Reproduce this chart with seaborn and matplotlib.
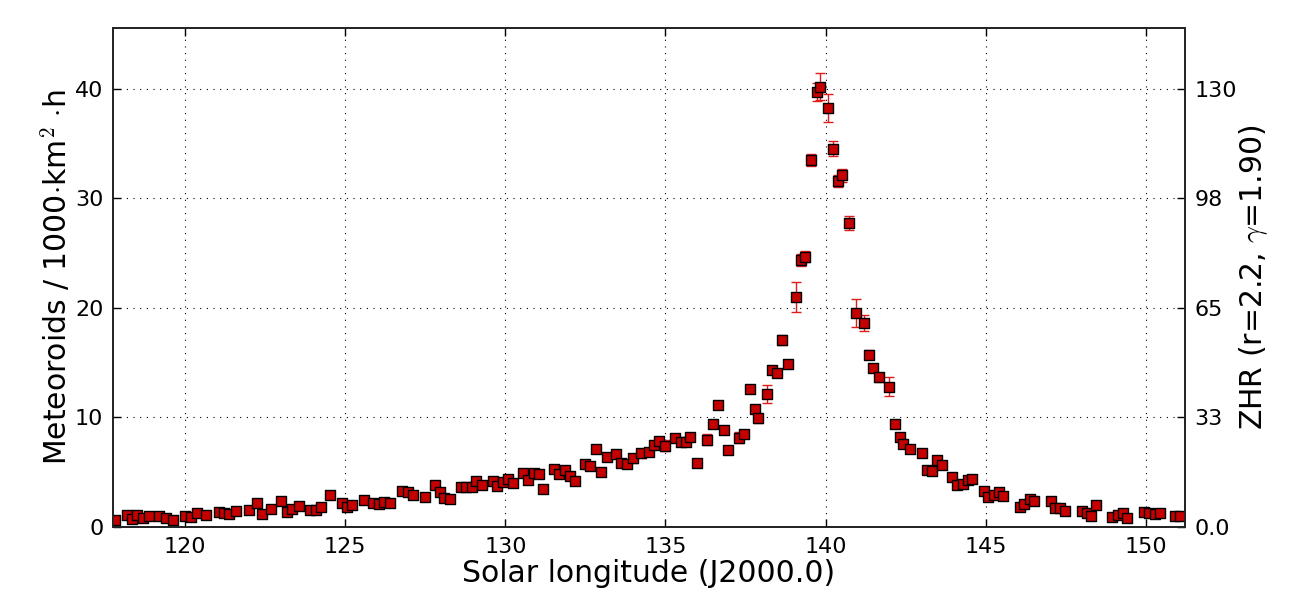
import numpy as np
import pandas as pd
import matplotlib
matplotlib.use("Agg")
import matplotlib.pyplot as plt
import seaborn as sns

# Solar longitude (deg, J2000.0) of each activity bin
solar_longitude = [
    117.81, 118.20, 118.35, 118.50, 118.68, 118.88, 119.20, 119.40, 119.63, 120.00,
    120.19, 120.38, 120.65, 121.07, 121.23, 121.38, 121.60, 122.00, 122.25, 122.40,
    122.69, 123.00, 123.18, 123.33, 123.57, 123.90, 124.10, 124.24, 124.53, 124.90,
    125.05, 125.20, 125.60, 125.88, 126.04, 126.20, 126.39, 126.77, 126.96, 127.12,
    127.49, 127.80, 127.95, 128.10, 128.28, 128.60, 128.76, 128.96, 129.08, 129.27,
    129.60, 129.73, 129.92, 130.08, 130.23, 130.54, 130.70, 130.88, 131.05, 131.17,
    131.52, 131.67, 131.85, 132.02, 132.16, 132.49, 132.65, 132.84, 132.99, 133.18,
    133.47, 133.60, 133.80, 133.99, 134.25, 134.48, 134.64, 134.79, 134.98, 135.29,
    135.47, 135.65, 135.76, 135.97, 136.29, 136.49, 136.64, 136.82, 136.94, 137.29,
    137.46, 137.63, 137.79, 137.89, 138.17, 138.33, 138.49, 138.63, 138.82, 139.08,
    139.23, 139.37, 139.53, 139.72, 139.82, 140.08, 140.23, 140.38, 140.52, 140.73,
    140.94, 141.19, 141.34, 141.48, 141.68, 141.98, 142.16, 142.32, 142.43, 142.64,
    143.00, 143.15, 143.32, 143.49, 143.63, 143.94, 144.09, 144.29, 144.43, 144.58,
    144.93, 145.07, 145.26, 145.42, 145.55, 146.07, 146.20, 146.38, 146.51, 147.03,
    147.17, 147.32, 147.47, 147.99, 148.16, 148.30, 148.44, 148.94, 149.12, 149.28,
    149.41, 149.93, 150.10, 150.28, 150.45, 150.91, 151.06,
]

# Meteoroid flux density (per 1000 km^2 per hour)
flux = [
    0.64, 1.10, 0.70, 1.10, 0.85, 0.98, 1.00, 0.82, 0.67, 1.00,
    0.88, 1.25, 1.12, 1.37, 1.28, 1.16, 1.46, 1.58, 2.16, 1.22,
    1.64, 2.40, 1.34, 1.62, 1.95, 1.58, 1.58, 1.85, 2.90, 2.22,
    1.85, 2.00, 2.46, 2.22, 2.10, 2.28, 2.19, 3.29, 3.17, 2.90,
    2.74, 3.86, 3.20, 2.65, 2.56, 3.68, 3.68, 3.68, 4.20, 3.86,
    4.23, 3.74, 4.08, 4.41, 4.05, 4.96, 4.26, 4.96, 4.81, 3.47,
    5.27, 4.81, 5.20, 4.68, 4.23, 5.72, 5.57, 7.12, 5.05, 6.42,
    6.69, 5.87, 5.75, 6.27, 6.73, 6.82, 7.49, 7.83, 7.40, 8.10,
    7.80, 7.80, 8.20, 5.84, 7.95, 9.38, 11.14, 8.86, 7.06, 8.16,
    8.52, 12.60, 10.75, 9.93, 12.12, 14.34, 14.03, 17.08, 14.86, 20.97,
    24.35, 24.69, 33.50, 39.70, 40.20, 38.26, 34.55, 31.60, 32.12, 27.76,
    19.50, 18.63, 15.74, 14.52, 13.67, 12.81, 9.41, 8.25, 7.58, 7.10,
    6.76, 5.20, 5.11, 6.12, 5.63, 4.60, 3.84, 3.93, 4.29, 4.38,
    3.32, 2.71, 2.90, 3.22, 2.83, 1.85, 2.07, 2.58, 2.40, 2.37,
    1.76, 1.70, 1.49, 1.46, 1.25, 1.03, 2.04, 0.88, 1.10, 1.31,
    0.82, 1.37, 1.31, 1.22, 1.25, 0.98, 1.00,
]

# One-sigma uncertainty of each flux value
flux_err = [
    0.15, 0.20, 0.20, 0.20, 0.15, 0.15, 0.15, 0.15, 0.15, 0.20,
    0.15, 0.15, 0.15, 0.15, 0.15, 0.15, 0.20, 0.20, 0.20, 0.20,
    0.20, 0.20, 0.20, 0.20, 0.20, 0.20, 0.20, 0.20, 0.20, 0.20,
    0.20, 0.20, 0.20, 0.20, 0.20, 0.20, 0.20, 0.20, 0.20, 0.20,
    0.20, 0.20, 0.20, 0.20, 0.20, 0.20, 0.20, 0.20, 0.20, 0.20,
    0.20, 0.20, 0.20, 0.20, 0.20, 0.20, 0.20, 0.20, 0.20, 0.20,
    0.20, 0.20, 0.20, 0.20, 0.20, 0.20, 0.20, 0.25, 0.20, 0.25,
    0.25, 0.25, 0.25, 0.40, 0.40, 0.30, 0.30, 0.30, 0.50, 0.35,
    0.30, 0.30, 0.35, 0.30, 0.50, 0.35, 0.30, 0.30, 0.30, 0.50,
    0.30, 0.30, 0.35, 0.40, 0.80, 0.30, 0.30, 0.45, 0.30, 1.37,
    0.55, 0.50, 0.52, 0.84, 1.20, 1.30, 0.68, 0.55, 0.60, 0.67,
    1.28, 0.73, 0.40, 0.40, 0.43, 0.85, 0.35, 0.30, 0.30, 0.30,
    0.30, 0.25, 0.25, 0.30, 0.25, 0.25, 0.25, 0.25, 0.25, 0.25,
    0.25, 0.25, 0.25, 0.25, 0.25, 0.20, 0.20, 0.20, 0.20, 0.20,
    0.20, 0.20, 0.20, 0.20, 0.20, 0.20, 0.20, 0.20, 0.20, 0.20,
    0.20, 0.20, 0.20, 0.20, 0.20, 0.20, 0.20,
]

flux_ticks = [0, 10, 20, 30, 40]
zhr_labels = ["0.0", "33", "65", "98", "130"]
x_ticks = [120, 125, 130, 135, 140, 145, 150]

df = pd.DataFrame({"sollong": solar_longitude, "flux": flux, "err": flux_err})

sns.set_style("ticks")
plt.rcParams["font.family"] = ["DejaVu Sans"]
plt.rcParams["mathtext.fontset"] = "cm"
plt.rcParams["text.color"] = "black"
plt.rcParams["axes.labelcolor"] = "black"
plt.rcParams["xtick.color"] = "black"
plt.rcParams["ytick.color"] = "black"

fig = plt.figure(figsize=(13.04, 5.92), dpi=100)
ax = fig.add_axes([113 / 1304, 65 / 592, (1185 - 113) / 1304, (527 - 28) / 592])

marker_red = "#c40000"
bar_red = "#dd1c1c"

ax.errorbar(df["sollong"], df["flux"], yerr=df["err"], fmt="none",
            ecolor=bar_red, elinewidth=1.0, capsize=3.5, capthick=1.0, zorder=2)
sns.scatterplot(data=df, x="sollong", y="flux", ax=ax, marker="s", s=42,
                color=marker_red, edgecolor="black", linewidth=1.0, zorder=3,
                legend=False)

ax.set_xlim(117.75, 151.22)
ax.set_ylim(0, 45.55)
ax.set_xticks(x_ticks)
ax.set_yticks(flux_ticks)
ax.grid(True, color="black", linestyle=(0, (1, 5)), linewidth=0.8)
ax.set_axisbelow(True)

for side in ["left", "right", "top", "bottom"]:
    ax.spines[side].set_visible(True)
    ax.spines[side].set_linewidth(1.2)
    ax.spines[side].set_color("black")

ax.tick_params(axis="both", direction="in", length=6, width=1, labelsize=16,
               top=True, colors="black", pad=7)
ax.tick_params(axis="y", right=False)

ax.set_xlabel("Solar longitude (J2000.0)", fontsize=21.5, labelpad=2)
ax.set_ylabel(r"Meteoroids / 1000$\cdot$km$^2$ $\cdot$h", fontsize=21.5, labelpad=1.5)

ax2 = ax.twinx()
ax2.set_ylim(ax.get_ylim())
ax2.set_yticks(flux_ticks)
ax2.set_yticklabels(zhr_labels)
ax2.tick_params(axis="y", direction="in", length=6, width=1, labelsize=16, pad=7,
                colors="black")
ax2.set_ylabel(r"ZHR (r=2.2, $\gamma$=1.90)", fontsize=21.5, labelpad=0)
for side in ["left", "right", "top", "bottom"]:
    ax2.spines[side].set_linewidth(1.2)

fig.savefig("out.png", dpi=100)
